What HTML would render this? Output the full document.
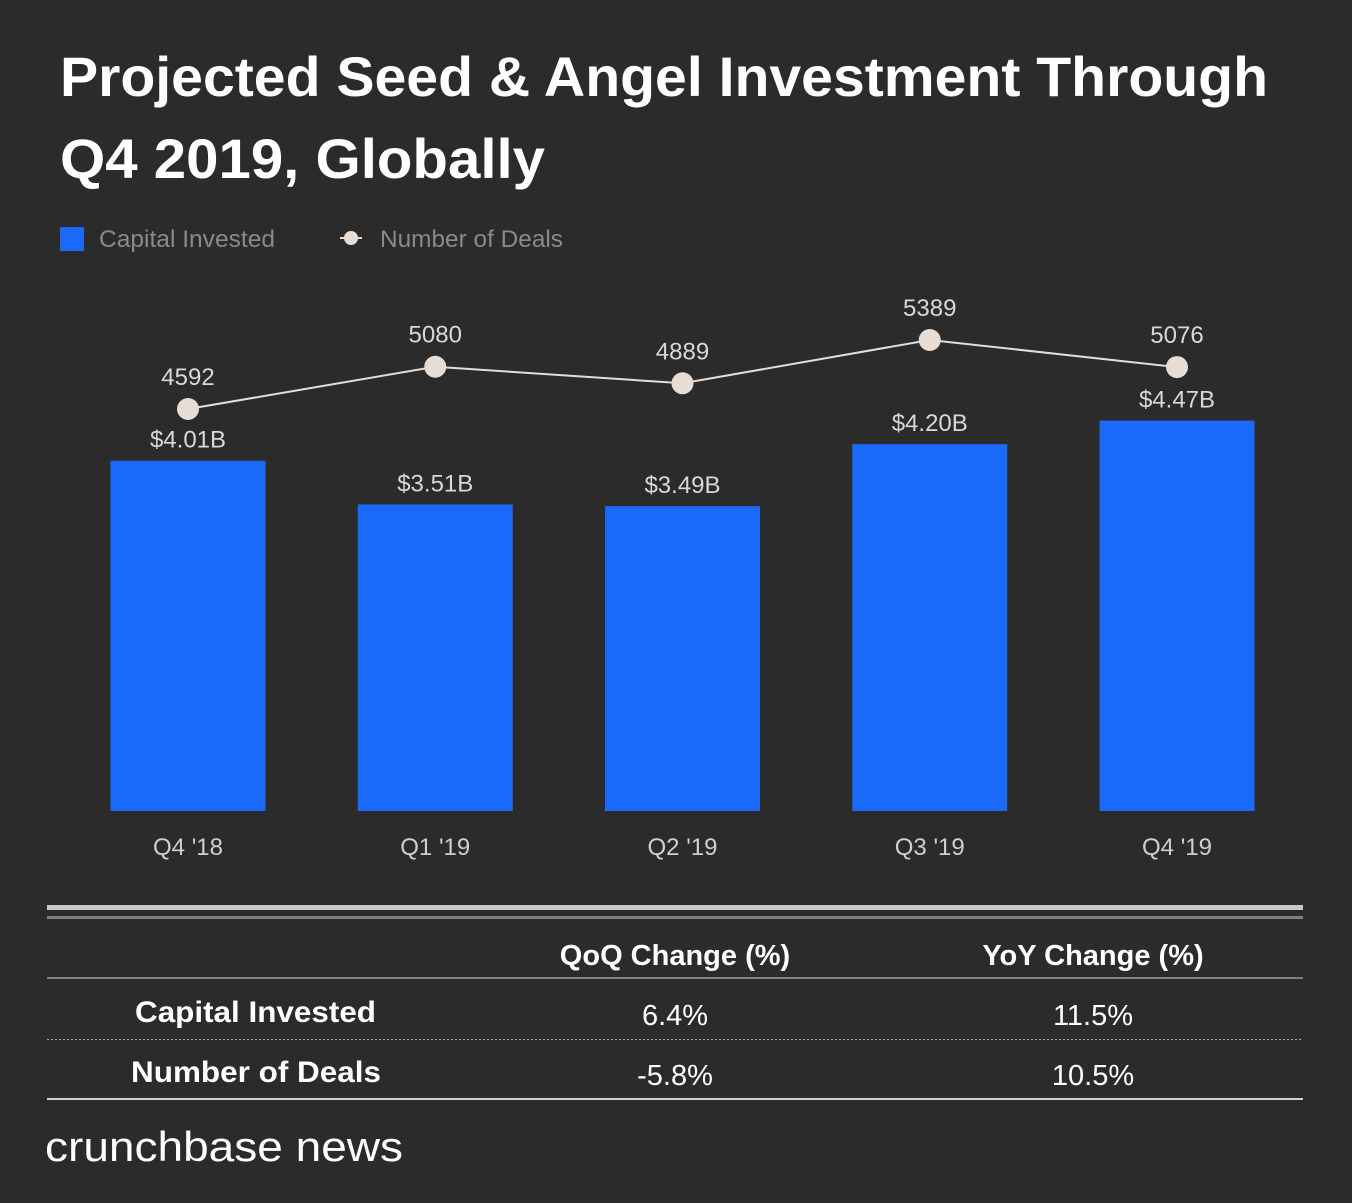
<!DOCTYPE html>
<html><head><meta charset="utf-8"><style>
body{margin:0;background:#2b2b2b;width:1352px;height:1198px;overflow:hidden;font-family:"Liberation Sans",sans-serif;}
svg text{font-family:"Liberation Sans",sans-serif;}
</style></head><body>
<svg width="1352" height="1198">
<rect x="0" y="0" width="1352" height="1198" fill="#2b2b2b"/>
<text x="60" y="96" fill="#fff" font-size="56" font-weight="bold" textLength="1208" lengthAdjust="spacingAndGlyphs">Projected Seed &amp; Angel Investment Through</text>
<text x="60" y="178" fill="#fff" font-size="56" font-weight="bold" textLength="485" lengthAdjust="spacingAndGlyphs">Q4 2019, Globally</text>
<g>
<rect x="60" y="227" width="24" height="24" fill="#1a69f8"/>
<text x="99" y="247" fill="#8a8a8a" font-size="24" textLength="176" lengthAdjust="spacingAndGlyphs">Capital Invested</text>
<line x1="340" y1="238" x2="362" y2="238" stroke="#e8ddd5" stroke-width="2"/>
<circle cx="351" cy="238" r="7" fill="#e8ddd5"/>
<text x="380" y="247" fill="#8a8a8a" font-size="24" textLength="183" lengthAdjust="spacingAndGlyphs">Number of Deals</text>
</g>
<g id="plot"></g>
<g>
<rect x="47" y="905" width="1256" height="5" fill="#c8c8c8"/>
<rect x="47" y="916" width="1256" height="3" fill="#808080"/>
<text x="675" y="965" fill="#fff" font-size="29" font-weight="bold" text-anchor="middle">QoQ Change (%)</text>
<text x="1093" y="965" fill="#fff" font-size="29" font-weight="bold" text-anchor="middle">YoY Change (%)</text>
<rect x="47" y="977" width="1256" height="2" fill="#808080"/>
<text x="135" y="1022" fill="#fff" font-size="30" font-weight="bold" textLength="241" lengthAdjust="spacingAndGlyphs">Capital Invested</text>
<text x="675" y="1025" fill="#fff" font-size="29" text-anchor="middle">6.4%</text>
<text x="1093" y="1025" fill="#fff" font-size="29" text-anchor="middle">11.5%</text>
<line x1="47" y1="1039.5" x2="1303" y2="1039.5" stroke="#aaa" stroke-width="1" stroke-dasharray="2,2"/>
<text x="131" y="1082" fill="#fff" font-size="30" font-weight="bold" textLength="250" lengthAdjust="spacingAndGlyphs">Number of Deals</text>
<text x="675" y="1085" fill="#fff" font-size="29" text-anchor="middle">-5.8%</text>
<text x="1093" y="1085" fill="#fff" font-size="29" text-anchor="middle">10.5%</text>
<rect x="47" y="1098" width="1256" height="2" fill="#d0d0d0"/>
</g>
<text x="45" y="1161" fill="#fff" font-size="42" textLength="358" lengthAdjust="spacingAndGlyphs">crunchbase news</text>
</svg>
<script>
const categories=["Q4 '18","Q1 '19","Q2 '19","Q3 '19","Q4 '19"];
const capital=[4.01,3.51,3.49,4.20,4.47];
const capitalLabels=["$4.01B","$3.51B","$3.49B","$4.20B","$4.47B"];
const deals=[4592,5080,4889,5389,5076];
const NS="http://www.w3.org/2000/svg";
const g=document.getElementById('plot');
const base=811, pxPerB=87.35;
const xc=i=>188+i*247.25;
const yBar=v=>base-v*pxPerB;
const yDeal=v=>409-(v-4592)*0.0866;
function mk(t,a){const e=document.createElementNS(NS,t);for(const k in a)e.setAttribute(k,a[k]);g.appendChild(e);return e;}
categories.forEach((c,i)=>{
  const r=mk('rect',{x:xc(i)-77.5,y:yBar(capital[i]),width:155,height:base-yBar(capital[i]),fill:'#1a69f8'});
  
  
  const l=mk('text',{x:xc(i),y:yBar(capital[i])-13,fill:'#d8d8d8','font-size':24,'text-anchor':'middle'});
  l.textContent=capitalLabels[i];
  
  
  const x=mk('text',{x:xc(i),y:855,fill:'#cfcfcf','font-size':24,'text-anchor':'middle'});
  x.textContent=c;
  
  
});
const pl=mk('polyline',{points:deals.map((d,i)=>xc(i)+','+yDeal(d)).join(' '),fill:'none',stroke:'#e8ddd5','stroke-width':2});


deals.forEach((d,i)=>{
  const c=mk('circle',{cx:xc(i),cy:yDeal(d),r:11,fill:'#e8ddd5'});
  
  
  const t=mk('text',{x:xc(i),y:yDeal(d)-24,fill:'#d8d8d8','font-size':24,'text-anchor':'middle'});
  t.textContent=d;
  
  
});
</script>
</body></html>
